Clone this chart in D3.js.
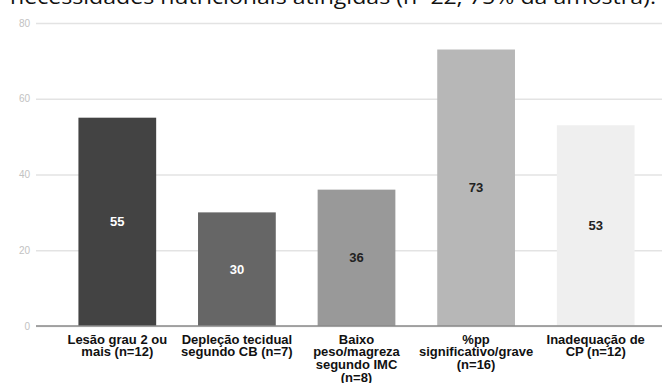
<!DOCTYPE html>
<html>
<head>
<meta charset="utf-8">
<script src="https://cdn.jsdelivr.net/npm/d3@7"></script>
<style>
  html, body { margin: 0; padding: 0; background: #fff; }
  svg { display: block; }
</style>
</head>
<body>
<svg id="chart" width="662" height="383"></svg>
<script>
// Categories (each entry is a list of wrapped lines) and percentage values
const categories = [
  ["Lesão grau 2 ou", "mais (n=12)"],
  ["Depleção tecidual", "segundo CB (n=7)"],
  ["Baixo", "peso/magreza", "segundo IMC", "(n=8)"],
  ["%pp", "significativo/grave", "(n=16)"],
  ["Inadequação de", "CP (n=12)"]
];
const values = [55, 30, 36, 73, 53];
const barColors = ["#434343", "#666666", "#999999", "#b7b7b7", "#efefef"];
const labelColors = ["#ffffff", "#ffffff", "#222222", "#222222", "#222222"];
const yTicks = [0, 20, 40, 60, 80];
const titleText = "necessidades nutricionais atingidas (n=22; 75% da amostra).";

const svg = d3.select("#chart");

// Caption line running above the chart (partially outside the frame)
svg.append("text")
  .attr("x", 10)
  .attr("y", 3.5)
  .attr("font-family", "'Open Sans', sans-serif")
  .attr("font-size", 20)
  .attr("textLength", 646)
  .attr("lengthAdjust", "spacingAndGlyphs")
  .attr("fill", "#111")
  .text(titleText);

const x = d3.scaleBand()
  .domain(d3.range(values.length))
  .range([57.5, 655.5])
  .paddingInner(0.35)
  .paddingOuter(0.175);

const y = d3.scaleLinear()
  .domain([0, 80])
  .range([326, 23]);

// Gridlines and y tick labels
const yAxis = d3.axisLeft(y)
  .tickValues(yTicks)
  .tickSize(-(662 - 36))
  .tickPadding(6);

const gy = svg.append("g")
  .attr("transform", "translate(36,0)")
  .call(yAxis);
gy.select(".domain").remove();
gy.selectAll(".tick line")
  .attr("stroke", "#e3e3e3")
  .attr("stroke-width", 1.3);
gy.selectAll(".tick text")
  .attr("fill", "#c2c2c2")
  .attr("font-family", "'Liberation Sans', Arial, sans-serif")
  .attr("font-size", 10);

// Bars
svg.append("g").selectAll("rect")
  .data(values)
  .join("rect")
  .attr("x", (d, i) => x(i))
  .attr("y", d => y(d))
  .attr("width", x.bandwidth())
  .attr("height", d => y(0) - y(d))
  .attr("fill", (d, i) => barColors[i]);

// Baseline
svg.append("line")
  .attr("x1", 36).attr("x2", 662)
  .attr("y1", y(0)).attr("y2", y(0))
  .attr("stroke", "#8a8a8a")
  .attr("stroke-width", 1.5);

// Value labels centred in each bar
svg.append("g").selectAll("text")
  .data(values)
  .join("text")
  .attr("x", (d, i) => x(i) + x.bandwidth() / 2)
  .attr("y", d => (y(d) + y(0)) / 2)
  .attr("dy", "0.35em")
  .attr("text-anchor", "middle")
  .attr("font-family", "'Liberation Sans', Arial, sans-serif")
  .attr("font-weight", "bold")
  .attr("font-size", 13)
  .attr("fill", (d, i) => labelColors[i])
  .text(d => d);

// Category labels below the baseline
const catG = svg.append("g");
categories.forEach((lines, i) => {
  const t = catG.append("text")
    .attr("x", x(i) + x.bandwidth() / 2)
    .attr("y", 343.5)
    .attr("text-anchor", "middle")
    .attr("font-family", "'Liberation Sans', Arial, sans-serif")
    .attr("font-weight", "bold")
    .attr("font-size", 13)
    .attr("fill", "#111");
  lines.forEach((ln, j) => {
    t.append("tspan")
      .attr("x", x(i) + x.bandwidth() / 2)
      .attr("dy", j === 0 ? 0 : 12.8)
      .text(ln);
  });
});
</script>
</body>
</html>
